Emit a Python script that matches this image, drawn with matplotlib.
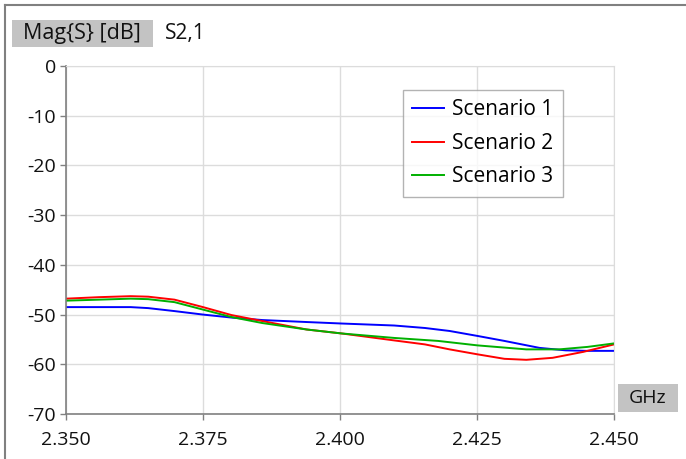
import matplotlib.pyplot as plt
from matplotlib.patches import Rectangle

plt.rcParams["font.family"] = ["Open Sans", "DejaVu Sans"]

freq_1 = [2.350, 2.3618, 2.365, 2.3698, 2.375, 2.3802, 2.3858, 2.3939, 2.4003, 2.4099,
          2.4155, 2.4200, 2.4251, 2.4300, 2.4364, 2.4412, 2.4450, 2.4500]
s21_1 = [-48.5, -48.5, -48.7, -49.3, -50.0, -50.6, -51.1, -51.5, -51.8, -52.2,
         -52.7, -53.3, -54.3, -55.3, -56.7, -57.2, -57.3, -57.3]

freq_2 = [2.350, 2.3560, 2.3618, 2.365, 2.3698, 2.375, 2.3802, 2.3858, 2.3939, 2.4003,
          2.4099, 2.4155, 2.4200, 2.4251, 2.4300, 2.4340, 2.4388, 2.4444, 2.4500]
s21_2 = [-46.8, -46.5, -46.3, -46.4, -47.0, -48.5, -50.1, -51.3, -53.0, -53.8,
         -55.2, -56.0, -57.0, -58.0, -58.9, -59.1, -58.7, -57.5, -56.0]

freq_3 = [2.350, 2.3560, 2.3618, 2.365, 2.3698, 2.375, 2.3802, 2.3858, 2.3939, 2.4003,
          2.4099, 2.4179, 2.4251, 2.4340, 2.4400, 2.4452, 2.4500]
s21_3 = [-47.2, -47.0, -46.8, -46.9, -47.5, -49.0, -50.5, -51.7, -53.0, -53.8,
         -54.7, -55.3, -56.2, -57.0, -57.0, -56.5, -55.8]

series = [
    ("Scenario 1", freq_1, s21_1, "#0000ff"),
    ("Scenario 2", freq_2, s21_2, "#ff0000"),
    ("Scenario 3", freq_3, s21_3, "#00b000"),
]

x_ticks = [2.350, 2.375, 2.400, 2.425, 2.450]
y_ticks = [0, -10, -20, -30, -40, -50, -60, -70]

W, H = 686, 459
fig = plt.figure(figsize=(W / 100, H / 100), dpi=100)
ax = fig.add_axes([66 / W, (H - 414) / H, 548 / W, 348 / H])

for label, f, s, c in series:
    ax.plot(f, s, color=c, lw=1.4, label=label)

ax.set_xlim(2.35, 2.45)
ax.set_ylim(-70, 0)
ax.set_xticks(x_ticks)
ax.set_xticklabels([f"{v:.3f}" for v in x_ticks])
ax.set_yticks(y_ticks)
ax.set_yticklabels([str(v) for v in y_ticks])
ax.grid(True, color="#dcdcdc", lw=1.0)
ax.set_axisbelow(True)
for side in ("top", "right"):
    ax.spines[side].set_color("#dcdcdc")
for side in ("left", "bottom"):
    ax.spines[side].set_color("#808080")
    ax.spines[side].set_linewidth(1.2)
ax.tick_params(direction="out", length=4, width=1, color="#808080",
               labelsize=14, pad=3, labelcolor="#111111")
ax.tick_params(axis="x", pad=8)

leg = ax.legend(loc="upper left", bbox_to_anchor=((403 - 66) / 548, 1 - (90 - 66) / 348),
                fontsize=15, frameon=True, fancybox=False, handlelength=1.5,
                borderpad=0.45, labelspacing=0.6, handletextpad=0.4, borderaxespad=0)
leg.get_frame().set_edgecolor("#a0a0a0")
leg.get_frame().set_linewidth(1.0)

# outer frame (only top and left edges show)
fig.add_artist(plt.Line2D([5 / W, 1], [1 - 5 / H, 1 - 5 / H], color="#808080", lw=1.5))
fig.add_artist(plt.Line2D([5 / W, 5 / W], [0, 1 - 5 / H], color="#808080", lw=1.5))

# gray label boxes
fig.add_artist(Rectangle((12 / W, 1 - 47 / H), 141 / W, 27 / H, color="#c3c3c3", lw=0))
fig.text(82 / W, 1 - 34 / H, "Mag{S} [dB]", ha="center", va="center", fontsize=15.5, color="#111111")
fig.text(165 / W, 1 - 34 / H, "S2,1", ha="left", va="center", fontsize=15, color="#111111")
fig.add_artist(Rectangle((618 / W, 1 - 412 / H), 60 / W, 28 / H, color="#c3c3c3", lw=0))
fig.text(648 / W, 1 - 398 / H, "GHz", ha="center", va="center", fontsize=14, color="#111111")

fig.savefig("out.png", dpi=100)
